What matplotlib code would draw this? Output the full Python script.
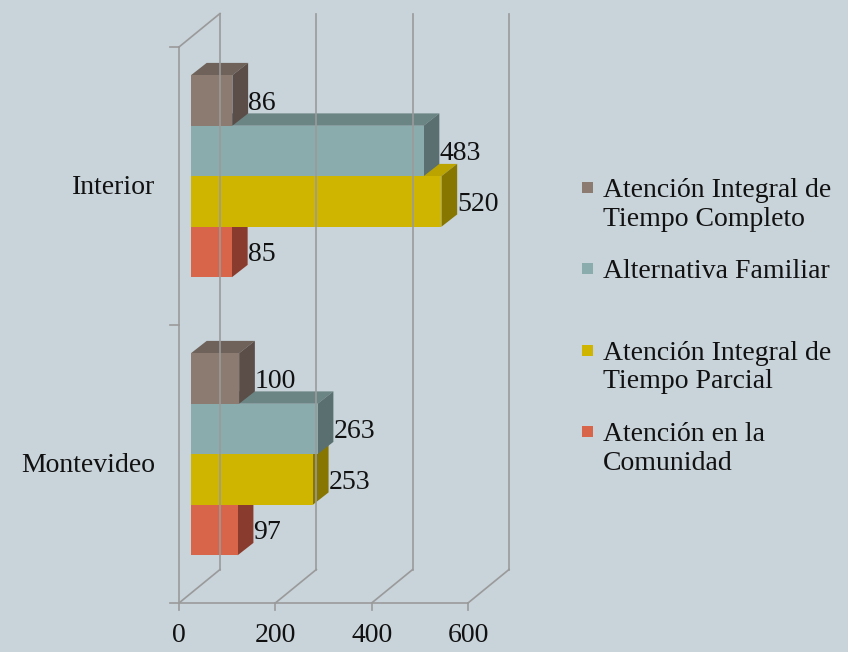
#!/usr/bin/env python

import numpy as np
import matplotlib
matplotlib.use('Agg')
import matplotlib.pyplot as plt
from matplotlib.patches import Polygon

categories = ['Interior', 'Montevideo']
series = ['Atención Integral de\nTiempo Completo',
	'Alternativa Familiar',
	'Atención Integral de\nTiempo Parcial',
	'Atención en la\nComunidad']
interior = [86, 483, 520, 85]
montevideo = [100, 263, 253, 97]
ticks = [0, 200, 400, 600]

front_c = ['#8c7b70', '#8aacad', '#cfb400', '#d8644a']
top_c = ['#6f625a', '#6b8584', '#bba300', '#b0503b']
side_c = ['#5b4d47', '#5a7070', '#877600', '#893c2e']
grid_c = '#9a9a9a'

plt.rcParams['font.family'] = ['Liberation Serif', 'DejaVu Serif']
FS = 20

W, H = 848, 652
fig = plt.figure(figsize=(W/100, H/100), dpi=100, facecolor='#c8d3da')
ax = fig.add_axes([0, 0, 1, 1])
ax.set_facecolor('#c8d3da')
ax.axis('off')

#	x in data units, y in pixels
x0 = 179.0
s = (468.0 - 179.0) / 600.0
ax.set_xlim(-x0/s, (W - x0)/s)
ax.set_ylim(H, 0)

floor_y = 603.0
top_y = 47.0
wdx = 41.0/s
wdy = -33.5
band = (floor_y - top_y) / len(categories)

#	walls / grid
for t in ticks:
	ax.plot([t + wdx, t + wdx], [floor_y + wdy, top_y + wdy], color=grid_c, lw=1.2)
	ax.plot([t, t + wdx], [floor_y, floor_y + wdy], color=grid_c, lw=1.2)
	ax.plot([t, t], [floor_y, floor_y + 7], color=grid_c, lw=1.2)
	ax.text(t, 635, str(t), ha='center', va='center', fontsize=FS, color='#111111')
ax.plot([0, ticks[-1]], [floor_y, floor_y], color=grid_c, lw=1.2)
ax.plot([0, 0], [top_y, floor_y], color=grid_c, lw=1.2)
ax.plot([0, wdx], [top_y, top_y + wdy], color=grid_c, lw=1.2)
for k in range(len(categories) + 1):
	yk = top_y + band*k
	ax.plot([-9/s, 0], [yk, yk], color=grid_c, lw=1.2)

#	bars
bar_h = 50.5
f0 = 12.0/41.0
bdx = 15.7/s
bdy = -12.3
groups = [interior, montevideo]
for g, vals in enumerate(groups):
	yc = top_y + band*(g + 0.5)
	ax.text(-24/s, yc + 2, categories[g], ha='right', va='center', fontsize=FS, color='#111111')
	bx = f0*wdx
	yc_bar = yc + f0*wdy
	for j in range(len(vals) - 1, -1, -1):
		v = vals[j]
		yt = yc_bar - bar_h*len(vals)/2 + j*bar_h
		yb = yt + bar_h
		ax.add_patch(Polygon([(bx, yt), (bx + v, yt), (bx + v + bdx, yt + bdy), (bx + bdx, yt + bdy)],
			closed=True, facecolor=top_c[j], edgecolor='none'))
		ax.add_patch(Polygon([(bx + v, yt), (bx + v + bdx, yt + bdy), (bx + v + bdx, yb + bdy), (bx + v, yb)],
			closed=True, facecolor=side_c[j], edgecolor='none'))
		ax.add_patch(Polygon([(bx, yt), (bx + v, yt), (bx + v, yb), (bx, yb)],
			closed=True, facecolor=front_c[j], edgecolor='none'))
		ax.text(bx + v + bdx, (yt + yb)/2 + 3, str(v), ha='left', va='center',
			fontsize=FS, color='#111111')

#	legend
leg_x = 582
for i, name in enumerate(series):
	ly = 187 + 81.3*i
	fig.patches.append(matplotlib.patches.Rectangle((leg_x/W, 1 - (ly + 6)/H), 11/W, 11/H,
		transform=fig.transFigure, facecolor=front_c[i], edgecolor='none'))
	fig.text(603/W, 1 - (ly - 9)/H, name, ha='left', va='top', fontsize=FS,
		color='#111111', linespacing=1.2)

plt.savefig('out.png', dpi=100, facecolor=fig.get_facecolor())
